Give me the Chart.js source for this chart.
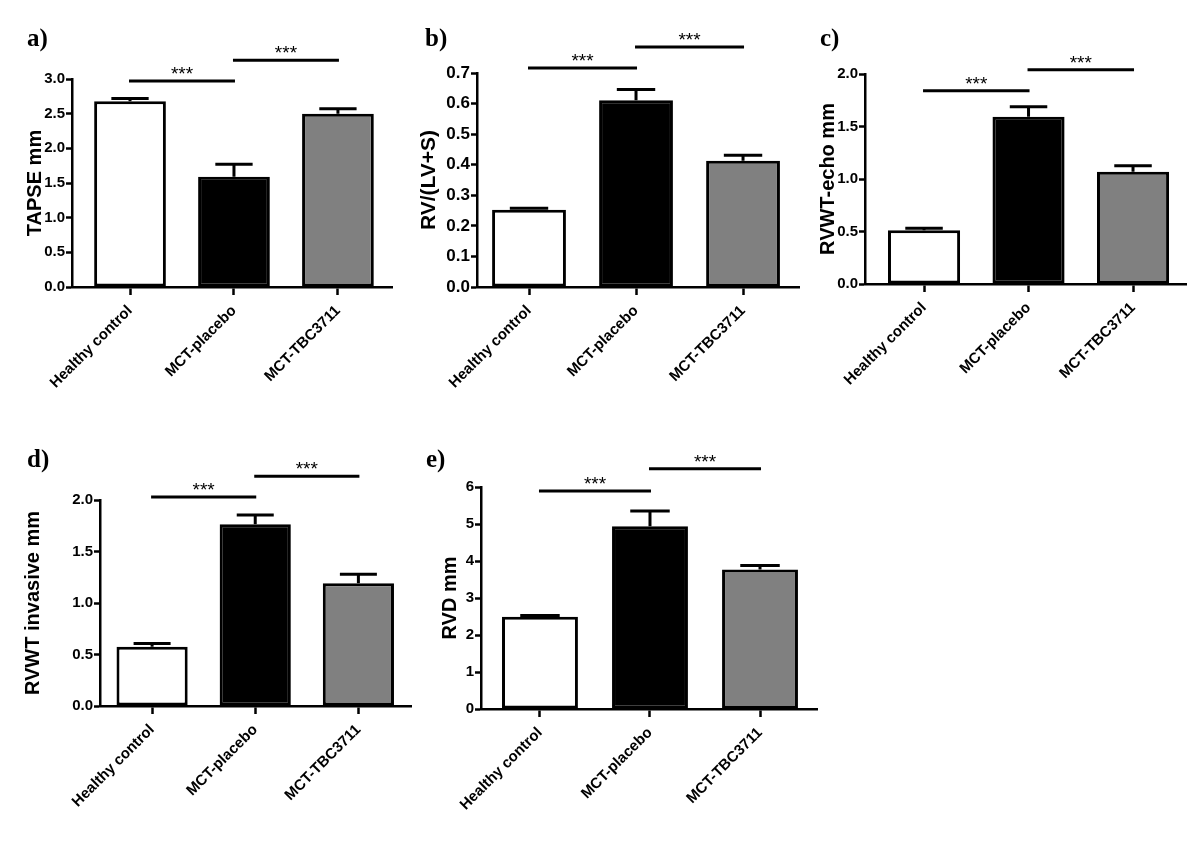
<!DOCTYPE html>
<html>
<head>
<meta charset="utf-8">
<script src="https://cdn.jsdelivr.net/npm/chart.js@4/dist/chart.umd.min.js"></script>
<style>
  html, body { margin: 0; background: #fff; }
  #wrap { position: relative; width: 1200px; height: 853px; overflow: hidden; }
  canvas { position: absolute; }
</style>
</head>
<body>
<div id="wrap">
  <canvas id="panelA" width="400" height="420" style="left:0;top:0"></canvas>
  <canvas id="panelB" width="400" height="420" style="left:400px;top:0"></canvas>
  <canvas id="panelC" width="400" height="420" style="left:800px;top:0"></canvas>
  <canvas id="panelD" width="420" height="433" style="left:0;top:420px"></canvas>
  <canvas id="panelE" width="430" height="433" style="left:400px;top:420px"></canvas>
</div>
<script>
// groups
const categories = ['Healthy control', 'MCT-placebo', 'MCT-TBC3711'];

// means and SEM per measurement
const tapseMean = [2.68, 1.59, 2.50];
const tapseSem = [0.04, 0.18, 0.07];
const rvRatioMean = [0.253, 0.611, 0.413];
const rvRatioSem = [0.005, 0.035, 0.018];
const rvwtEchoMean = [0.513, 1.593, 1.07];
const rvwtEchoSem = [0.018, 0.096, 0.056];
const rvwtInvMean = [0.576, 1.764, 1.191];
const rvwtInvSem = [0.032, 0.09, 0.087];
const rvdMean = [2.49, 4.94, 3.77];
const rvdSem = [0.04, 0.41, 0.11];

// y axis ticks
const tapseTicks = [0, 0.5, 1.0, 1.5, 2.0, 2.5, 3.0];
const rvRatioTicks = [0, 0.1, 0.2, 0.3, 0.4, 0.5, 0.6, 0.7];
const rvwtEchoTicks = [0, 0.5, 1.0, 1.5, 2.0];
const rvwtInvTicks = [0, 0.5, 1.0, 1.5, 2.0];
const rvdTicks = [0, 1, 2, 3, 4, 5, 6];

// significance bar heights (placebo vs control, placebo vs TBC3711)
const tapseSig = [2.97, 3.27];
const rvRatioSig = [0.716, 0.785];
const rvwtEchoSig = [1.84, 2.04];
const rvwtInvSig = [2.03, 2.23];
const rvdSig = [5.89, 6.49];

const barColors = ['#ffffff', '#000000', '#808080'];
const sansFont = "'Liberation Sans', Arial, sans-serif";
const serifFont = "'Liberation Serif', 'Times New Roman', serif";

const panelPlugin = {
  id: 'panelExtras',
  afterDatasetsDraw(chart, args, opts) {
    const { ctx } = chart;
    const x = chart.scales.x;
    const y = chart.scales.y;
    const meta = chart.getDatasetMeta(0);

    ctx.save();
    ctx.strokeStyle = '#000';
    ctx.lineWidth = 3;
    ctx.lineCap = 'butt';

    // error bars (upper SEM only)
    meta.data.forEach((bar, i) => {
      const cx = bar.x;
      const top = y.getPixelForValue(opts.mean[i]);
      const tip = y.getPixelForValue(opts.mean[i] + opts.sem[i]);
      const half = bar.width * 0.26;
      ctx.beginPath();
      ctx.moveTo(cx, top);
      ctx.lineTo(cx, tip);
      ctx.moveTo(cx - half, tip);
      ctx.lineTo(cx + half, tip);
      ctx.stroke();
    });

    // significance bars
    ctx.font = '19px ' + sansFont;
    ctx.fillStyle = '#000';
    ctx.textAlign = 'center';
    ctx.textBaseline = 'alphabetic';
    const pairs = [[0, 1], [1, 2]];
    pairs.forEach((p, k) => {
      const x1 = x.getPixelForValue(p[0]) - 1;
      const x2 = x.getPixelForValue(p[1]) + 1;
      const yy = y.getPixelForValue(opts.sig[k]);
      ctx.beginPath();
      ctx.moveTo(x1, yy);
      ctx.lineTo(x2, yy);
      ctx.stroke();
      ctx.fillText('***', (x1 + x2) / 2, yy - 1);
    });

    // panel letter
    ctx.font = 'bold 25px ' + serifFont;
    ctx.textAlign = 'left';
    ctx.fillText(opts.letter, opts.letterX, opts.letterY);
    ctx.restore();
  }
};

function makePanel(cfg) {
  const box = cfg.box;
  const tickFont = { family: sansFont, size: 15, weight: 'bold' };
  const yTickFont = { family: sansFont, size: cfg.yFont || 15, weight: 'bold' };
  new Chart(document.getElementById(cfg.id), {
    type: 'bar',
    data: {
      datasets: [{
        data: cfg.mean.map((v, i) => ({ x: i, y: v })),
        backgroundColor: barColors,
        borderColor: '#000',
        borderWidth: 3,
        borderSkipped: false,
        barPercentage: 0.69,
        categoryPercentage: 1
      }]
    },
    options: {
      responsive: false,
      animation: false,
      events: [],
      layout: { padding: { top: box.top, right: box.w - box.right, left: 0, bottom: 0 } },
      plugins: {
        legend: { display: false },
        tooltip: { enabled: false },
        panelExtras: { mean: cfg.mean, sem: cfg.sem, sig: cfg.sig, letter: cfg.letter, letterX: cfg.letterX, letterY: cfg.letterY }
      },
      scales: {
        x: {
          type: 'linear',
          offset: false,
          bounds: 'data',
          min: -cfg.gaps[0],
          max: categories.length - 1 + cfg.gaps[1],
          afterBuildTicks: (s) => { s.ticks = categories.map((c, i) => ({ value: i })); },
          grid: { offset: false, drawOnChartArea: false, drawTicks: true, tickLength: 8, tickWidth: 2.5, tickColor: '#000' },
          border: { color: '#000', width: 2.5 },
          ticks: {
            color: '#000', font: tickFont, minRotation: 45, maxRotation: 45, autoSkip: false, padding: 7,
            callback: (v) => categories[v]
          },
          afterFit: (s) => { s.height = box.h - box.bottom; }
        },
        y: {
          min: 0,
          max: cfg.ticks[cfg.ticks.length - 1],
          afterBuildTicks: (s) => { s.ticks = cfg.ticks.map((v) => ({ value: v })); },
          grid: { drawOnChartArea: false, drawTicks: true, tickLength: 6, tickWidth: 2.5, tickColor: '#000' },
          border: { color: '#000', width: 2.5 },
          ticks: {
            color: '#000',
            font: yTickFont,
            padding: 1,
            callback: (v) => v.toFixed(cfg.digits)
          },
          title: {
            display: true,
            text: cfg.title,
            color: '#000',
            font: { family: sansFont, size: cfg.titleFont || 20, weight: 'bold' },
            padding: { top: cfg.titlePad, bottom: 0 }
          },
          afterFit: (s) => { s.width = box.left; }
        }
      }
    },
    plugins: [panelPlugin]
  });
}

makePanel({
  id: 'panelA', letter: 'a)', letterX: 27, letterY: 46, title: 'TAPSE mm', titlePad: 23,
  mean: tapseMean, sem: tapseSem, ticks: tapseTicks, sig: tapseSig, digits: 1, gaps: [0.558, 0.52],
  box: { w: 400, h: 420, left: 72, right: 392, top: 79, bottom: 287 }
});
makePanel({
  id: 'panelB', letter: 'b)', letterX: 25, letterY: 46, title: 'RV/(LV+S)', titlePad: 17, titleFont: 21, yFont: 17,
  mean: rvRatioMean, sem: rvRatioSem, ticks: rvRatioTicks, sig: rvRatioSig, digits: 1, gaps: [0.486, 0.523],
  box: { w: 400, h: 420, left: 77, right: 399, top: 73, bottom: 287 }
});
makePanel({
  id: 'panelC', letter: 'c)', letterX: 20, letterY: 46, title: 'RVWT-echo mm', titlePad: 16,
  mean: rvwtEchoMean, sem: rvwtEchoSem, ticks: rvwtEchoTicks, sig: rvwtEchoSig, digits: 1, gaps: [0.565, 0.507],
  box: { w: 400, h: 420, left: 65, right: 386, top: 74, bottom: 284 }
});
makePanel({
  id: 'panelD', letter: 'd)', letterX: 27, letterY: 47, title: 'RVWT invasive mm', titlePad: 21,
  mean: rvwtInvMean, sem: rvwtInvSem, ticks: rvwtInvTicks, sig: rvwtInvSig, digits: 1, gaps: [0.505, 0.51],
  box: { w: 420, h: 433, left: 100, right: 411, top: 80, bottom: 286 }
});
makePanel({
  id: 'panelE', letter: 'e)', letterX: 26, letterY: 47, title: 'RVD mm', titlePad: 38,
  mean: rvdMean, sem: rvdSem, ticks: rvdTicks, sig: rvdSig, digits: 0, gaps: [0.536, 0.518],
  box: { w: 430, h: 433, left: 81, right: 417, top: 67, bottom: 289 }
});
</script>
</body>
</html>
